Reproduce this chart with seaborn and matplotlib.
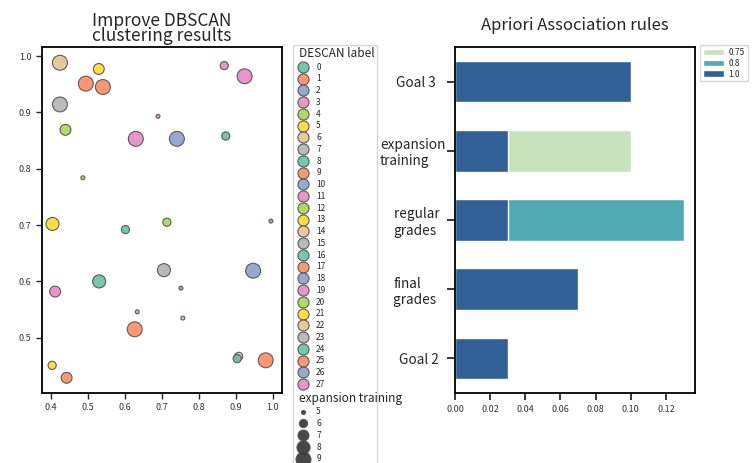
import numpy as np
import pandas as pd
import matplotlib
matplotlib.use("Agg")
import matplotlib.pyplot as plt
from matplotlib.offsetbox import VPacker
from matplotlib.transforms import Bbox
import seaborn as sns

# DBSCAN clustering result
pt_x = [0.425, 0.530, 0.495, 0.541, 0.425, 0.440, 0.487, 0.405, 0.602, 0.714,
        0.995, 0.690, 0.630, 0.741, 0.869, 0.924, 0.873, 0.412, 0.531, 0.706,
        0.752, 0.634, 0.757, 0.627, 0.947, 0.404, 0.443, 0.908, 0.904, 0.981]
pt_y = [0.988, 0.977, 0.951, 0.945, 0.914, 0.869, 0.784, 0.702, 0.692, 0.705,
        0.707, 0.893, 0.853, 0.853, 0.983, 0.964, 0.858, 0.582, 0.600, 0.620,
        0.588, 0.546, 0.535, 0.515, 0.619, 0.451, 0.429, 0.467, 0.463, 0.460]
pt_label = [6, 5, 1, 1, 7, 4, 12, 13, 0, 20,
            2, 3, 11, 10, 11, 19, 8, 27, 16, 15,
            18, 23, 14, 9, 26, 21, 17, 22, 24, 25]
pt_size = [9, 7, 9, 9, 9, 7, 5, 8, 6, 6,
           5, 5, 9, 9, 6, 9, 6, 7, 8, 8,
           5, 5, 5, 9, 9, 6, 7, 6, 6, 9]

# Apriori association rules: support stacked by confidence
rules = ["Goal 3", "expansion training", "regular grades", "final grades", "Goal 2"]
rule_ticks = ["Goal 3   ", "expansion\ntraining", "regular  \ngrades", "final\ngrades   ", "Goal 2  "]
conf_levels = ["0.75", "0.8", "1.0"]
support_10 = [0.10, 0.03, 0.03, 0.07, 0.03]
support_08 = [0.0, 0.0, 0.10, 0.0, 0.0]
support_075 = [0.0, 0.07, 0.0, 0.0, 0.0]

sns.set_style("ticks")
plt.rcParams["font.family"] = ["Noto Sans CJK SC", "DejaVu Sans"]
plt.rcParams["axes.edgecolor"] = "black"
plt.rcParams["axes.linewidth"] = 1.3
plt.rcParams["legend.fontsize"] = 6
plt.rcParams["legend.title_fontsize"] = 8.5
plt.rcParams["legend.labelspacing"] = 0.33
plt.rcParams["legend.borderpad"] = 0.2
plt.rcParams["legend.handletextpad"] = 0.6
plt.rcParams["legend.edgecolor"] = "#cccccc"
plt.rcParams["legend.borderaxespad"] = 0

fig = plt.figure(figsize=(7.55, 4.63), dpi=100)
ax1 = fig.add_axes([0.0556, 0.1512, 0.3179, 0.7473])
ax2 = fig.add_axes([0.6026, 0.1512, 0.3179, 0.7473])

# left: scatter
df = pd.DataFrame({"x": pt_x, "y": pt_y,
                   "DESCAN label": pt_label,
                   "expansion training": pt_size})
sns.scatterplot(data=df, x="x", y="y", hue="DESCAN label", size="expansion training",
                palette="Set2", sizes=(8, 115), edgecolor="0.3", linewidth=0.8,
                alpha=0.9, ax=ax1)
ax1.set_xlabel("")
ax1.set_ylabel("")
ax1.set_xlim(0.3765, 1.025)
ax1.set_ylim(0.402, 1.016)
ax1.set_xticks([0.4, 0.5, 0.6, 0.7, 0.8, 0.9, 1.0])
ax1.set_yticks([0.5, 0.6, 0.7, 0.8, 0.9, 1.0])
ax1.tick_params(labelsize=6.5, labelcolor="#333333", length=4, width=1)
ax1.set_title("Improve DBSCAN\nclustering results", fontsize=12.5, linespacing=0.85, pad=4)

leg = ax1.get_legend()
leg.set_loc("upper left")
leg.set_bbox_to_anchor((1.045, 1.005), transform=ax1.transAxes)
n_hue = len(set(pt_label))
for h in leg.legend_handles[1:n_hue + 1]:
    if hasattr(h, "set_markersize"):
        h.set_markersize(8)
    else:
        h.set_sizes([64])


def narrow_bbox(orig, max_w):
    def get_bbox(renderer):
        bb = orig(renderer)
        return Bbox.from_bounds(bb.x0, bb.y0, min(bb.width, max_w), bb.height)
    return get_bbox


# group names look like titles (no handle, bigger text, allowed to overflow the frame)
for hpack in leg.findobj(VPacker)[0].get_children():
    draw_area, text_area = hpack.get_children()
    txt = text_area.get_children()[0]
    if txt.get_text() in ("DESCAN label", "expansion training"):
        draw_area.set_width(0)
        for art in draw_area.get_children():
            art.set_visible(False)
        txt.set_size(8.5)
        text_area.get_bbox = narrow_bbox(text_area.get_bbox, 76)

# right: stacked horizontal bars
pal = sns.color_palette("YlGnBu", 3)
lvl_10 = np.array(support_10)
lvl_08 = lvl_10 + np.array(support_08)
lvl_075 = lvl_08 + np.array(support_075)
for vals, col, lab in [(lvl_075, pal[0], conf_levels[0]),
                       (lvl_08, pal[1], conf_levels[1]),
                       (lvl_10, pal[2], conf_levels[2])]:
    sns.barplot(x=vals, y=rules, color=col, width=0.6, label=lab, ax=ax2, orient="h")
ax2.set_xlabel("")
ax2.set_ylabel("")
ax2.set_yticks(range(len(rules)))
ax2.set_yticklabels(rule_ticks, fontsize=9.8, multialignment="left")
ax2.tick_params(axis="y", length=6, width=1.3, pad=1)
ax2.tick_params(axis="x", labelsize=6.5, labelcolor="#333333", length=5, width=1.3)
ax2.set_title("Apriori Association rules", fontsize=12, pad=12)
ax2.legend(loc="upper left", bbox_to_anchor=(1.02, 1.005), borderaxespad=0,
           fontsize=6, labelspacing=0.2, borderpad=0.35, handleheight=0.8,
           handlelength=2.5, edgecolor="#cccccc")

fig.savefig("out.png", dpi=100)
